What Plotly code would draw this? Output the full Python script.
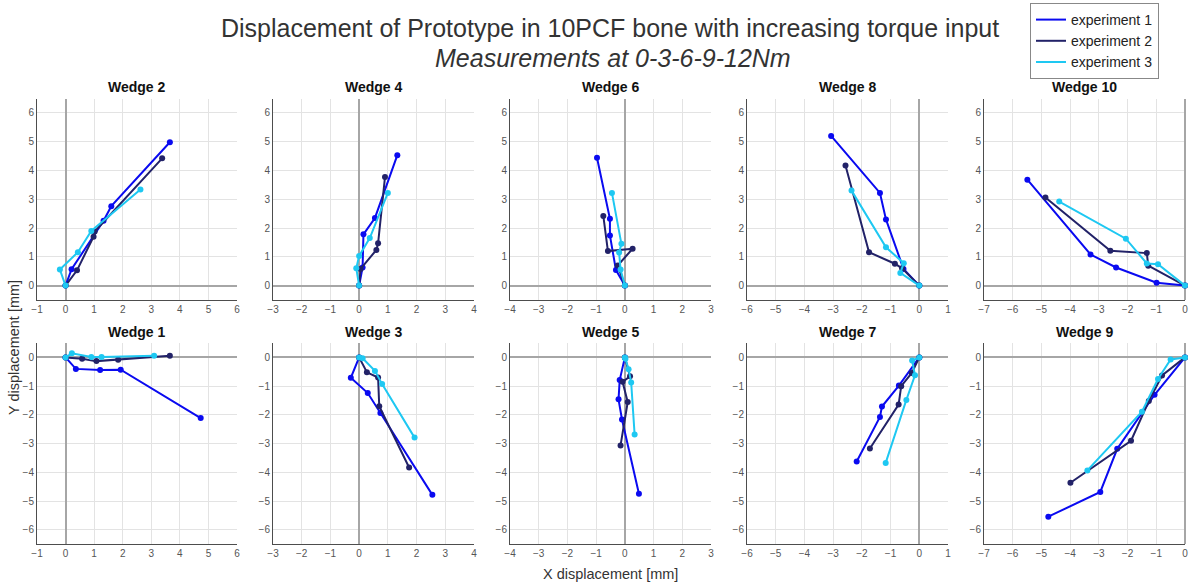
import plotly.graph_objects as go

# ---------------- data (mm), each list: [experiment 1, experiment 2, experiment 3] ----------------
SERIES = ["experiment 1", "experiment 2", "experiment 3"]
COLORS = ["#0A0AF0", "#222268", "#1EC8F2"]

W2_X = [[0, 0.21, 1.33, 1.60, 3.65], [0, 0.40, 0.98, 1.02, 3.38], [0, -0.20, 0.43, 0.90, 2.62]]
W2_Y = [[0, 0.57, 2.25, 2.76, 4.98], [0, 0.53, 1.70, 1.88, 4.42], [0, 0.56, 1.16, 1.90, 3.34]]

W4_X = [[0, 0.12, 0.15, 0.55, 1.33], [0, 0.05, 0.60, 0.66, 0.90], [0, -0.10, 0.00, 0.37, 1.00]]
W4_Y = [[0, 0.63, 1.78, 2.35, 4.53], [0, 0.58, 1.24, 1.47, 3.77], [0, 0.60, 1.03, 1.65, 3.22]]

W6_X = [[0, -0.31, -0.52, -0.52, -0.97], [0, -0.25, 0.27, -0.59, -0.75], [0, -0.15, -0.20, -0.12, -0.45]]
W6_Y = [[0, 0.54, 1.74, 2.32, 4.44], [0, 0.70, 1.28, 1.20, 2.42], [0, 0.56, 1.15, 1.45, 3.22]]

W8_X = [[0, -0.55, -1.16, -1.37, -3.07], [0, -0.60, -0.85, -1.75, -2.57], [0, -0.66, -0.54, -1.16, -2.36]]
W8_Y = [[0, 0.58, 2.30, 3.22, 5.20], [0, 0.60, 0.76, 1.16, 4.17], [0, 0.44, 0.78, 1.33, 3.30]]

W10_X = [[0, -0.99, -2.40, -3.29, -5.49], [0, -1.28, -1.33, -2.60, -4.86], [0, -0.94, -1.33, -2.06, -4.38]]
W10_Y = [[0, 0.10, 0.63, 1.08, 3.68], [0, 0.69, 1.13, 1.21, 3.06], [0, 0.74, 0.77, 1.63, 2.92]]

W1_X = [[0, 0.36, 1.21, 1.93, 4.73], [0, 0.58, 1.08, 1.84, 3.65], [0, 0.22, 0.90, 1.26, 3.10]]
W1_Y = [[0, -0.40, -0.44, -0.43, -2.11], [0, -0.05, -0.13, -0.08, 0.06], [0, 0.14, 0.01, 0.01, 0.06]]

W3_X = [[0, -0.29, 0.30, 0.74, 2.55], [0, 0.27, 0.66, 0.70, 1.74], [0, 0.12, 0.55, 0.80, 1.93]]
W3_Y = [[0, -0.71, -1.24, -1.93, -4.78], [0, -0.52, -0.70, -1.70, -3.83], [0, -0.03, -0.47, -0.93, -2.79]]

W5_X = [[0, -0.18, -0.22, -0.10, 0.49], [0, 0.18, -0.08, 0.10, -0.15], [0, 0.02, 0.13, 0.22, 0.34]]
W5_Y = [[0, -0.79, -1.46, -2.16, -4.74], [0, -0.66, -0.85, -1.55, -3.06], [0, -0.05, -0.41, -0.87, -2.68]]

W7_X = [[0, -0.71, -1.30, -1.37, -2.18], [0, -0.26, -0.63, -0.72, -1.72], [0, -0.25, -0.15, -0.45, -1.17]]
W7_Y = [[0, -0.98, -1.71, -2.07, -3.62], [0, -0.54, -1.00, -1.64, -3.17], [0, -0.11, -0.62, -1.48, -3.67]]

W9_X = [[0, -1.06, -2.36, -2.95, -4.76], [0, -0.80, -1.26, -1.88, -3.99], [0, -0.50, -0.94, -1.50, -3.40]]
W9_Y = [[0, -1.30, -3.18, -4.68, -5.54], [0, -0.63, -1.52, -2.90, -4.36], [0, -0.07, -0.75, -1.89, -3.93]]

TOP_TITLES = ["Wedge 2", "Wedge 4", "Wedge 6", "Wedge 8", "Wedge 10"]
BOT_TITLES = ["Wedge 1", "Wedge 3", "Wedge 5", "Wedge 7", "Wedge 9"]
TOP_DATA = [(W2_X, W2_Y), (W4_X, W4_Y), (W6_X, W6_Y), (W8_X, W8_Y), (W10_X, W10_Y)]
BOT_DATA = [(W1_X, W1_Y), (W3_X, W3_Y), (W5_X, W5_Y), (W7_X, W7_Y), (W9_X, W9_Y)]
X_RANGES = [[-1, 6], [-3, 4], [-4, 3], [-6, 1], [-7, 0]]

# ---------------- layout geometry ----------------
W, H = 1192, 586
X_DOMAINS = [[37, 237], [273, 474], [510, 711], [747, 948], [984, 1185]]
TOP_Y = [98.5, 300]
BOT_Y = [343, 544.3]

FONT = "Liberation Sans, Arial, Helvetica, sans-serif"
fig = go.Figure()
layout = dict(
    width=W, height=H, margin=dict(l=0, r=0, t=0, b=0),
    paper_bgcolor="white", plot_bgcolor="white",
    font=dict(family=FONT, color="#333"),
    showlegend=True,
)
annotations = []

def ydom(pix):
    return [1 - pix[1] / H, 1 - pix[0] / H]

idx = 0
for row, (titles, data, ypix, yrange, yticks) in enumerate([
        (TOP_TITLES, TOP_DATA, TOP_Y, [-0.5, 6.5], list(range(0, 7))),
        (BOT_TITLES, BOT_DATA, BOT_Y, [-6.5, 0.5], list(range(-6, 1)))]):
    for col in range(5):
        idx += 1
        xa = "xaxis" if idx == 1 else f"xaxis{idx}"
        ya = "yaxis" if idx == 1 else f"yaxis{idx}"
        xref = "x" if idx == 1 else f"x{idx}"
        yref = "y" if idx == 1 else f"y{idx}"
        xr = X_RANGES[col]
        common = dict(showgrid=True, gridcolor="#e3e3e3", gridwidth=1,
                      zeroline=True, zerolinecolor="#a6a6a6", zerolinewidth=1.5,
                      showline=True, linecolor="#4d4d4d", linewidth=1,
                      ticks="", tickfont=dict(size=10, color="#555", family=FONT),
                      automargin=False, fixedrange=True)
        layout[xa] = dict(common, domain=[X_DOMAINS[col][0] / W, X_DOMAINS[col][1] / W],
                          range=xr, tickvals=list(range(xr[0], xr[1] + 1)),
                          anchor=yref)
        layout[ya] = dict(common, domain=ydom(ypix), range=yrange, tickvals=yticks,
                          anchor=xref)
        xs, ys = data[col]
        for k in range(3):
            fig.add_trace(go.Scatter(
                x=xs[k], y=ys[k], mode="lines+markers",
                line=dict(color=COLORS[k], width=2),
                marker=dict(color=COLORS[k], size=6),
                cliponaxis=False, showlegend=False,
                xaxis=xref, yaxis=yref))
        annotations.append(dict(
            text=f"<b>{titles[col]}</b>", x=(X_DOMAINS[col][0] + X_DOMAINS[col][1]) / 2 / W,
            y=1 - (ypix[0] - 11.5) / H, xref="paper", yref="paper",
            xanchor="center", yanchor="middle", showarrow=False,
            font=dict(size=14, color="#111", family=FONT)))

# legend entries (line only)
for k in range(3):
    fig.add_trace(go.Scatter(x=[None], y=[None], mode="lines", name=SERIES[k],
                             line=dict(color=COLORS[k], width=2),
                             xaxis="x", yaxis="y"))

layout["legend"] = dict(x=1030 / W, y=1 - 3 / H, xanchor="left", yanchor="top",
                        bordercolor="#888", borderwidth=1, bgcolor="white",
                        font=dict(size=14, color="#222", family=FONT),
                        tracegroupgap=0, itemwidth=30)

annotations += [
    dict(text="Displacement of Prototype in 10PCF bone with increasing torque input",
         x=610 / W, y=1 - 28 / H, xref="paper", yref="paper", showarrow=False,
         xanchor="center", yanchor="middle", font=dict(size=25, color="#333", family=FONT)),
    dict(text="<i>Measurements at 0-3-6-9-12Nm</i>",
         x=613 / W, y=1 - 58 / H, xref="paper", yref="paper", showarrow=False,
         xanchor="center", yanchor="middle", font=dict(size=25, color="#333", family=FONT)),
    dict(text="Y displacement [mm]", x=14 / W, y=1 - 348 / H, xref="paper", yref="paper",
         showarrow=False, textangle=-90, xanchor="center", yanchor="middle",
         font=dict(size=14.5, color="#333", family=FONT)),
    dict(text="X displacement [mm]", x=610 / W, y=1 - 574 / H, xref="paper", yref="paper",
         showarrow=False, xanchor="center", yanchor="middle",
         font=dict(size=14.5, color="#333", family=FONT)),
]
layout["annotations"] = annotations
fig.update_layout(**layout)
fig.write_html("out.html")
